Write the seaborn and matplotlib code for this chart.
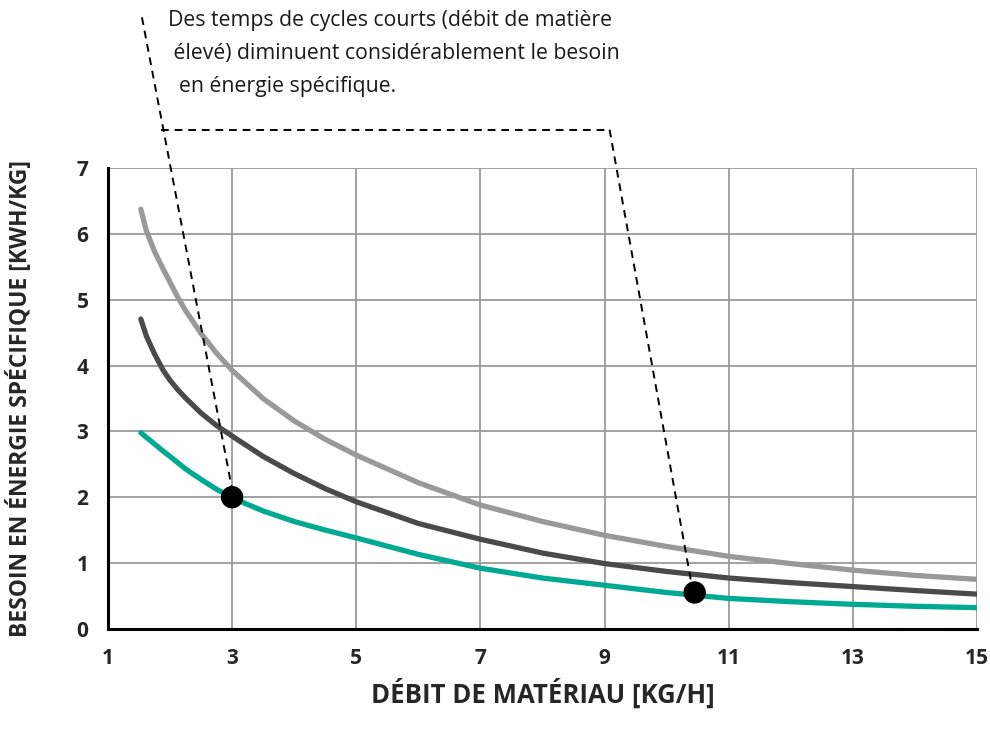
import matplotlib
matplotlib.use("Agg")
import matplotlib.pyplot as plt
import seaborn as sns
import pandas as pd

# ---- data ----
x_vals = [1.53, 1.62, 1.75, 1.89, 2.0, 2.12, 2.25, 2.5, 2.75, 3.0, 3.5, 4.0, 4.5, 5.0,
          6.0, 7.0, 8.0, 9.0, 10.0, 11.0, 12.0, 13.0, 14.0, 15.0]
light_gray = [6.38, 6.05, 5.74, 5.47, 5.27, 5.05, 4.84, 4.49, 4.19, 3.93, 3.50, 3.16,
              2.88, 2.64, 2.22, 1.88, 1.63, 1.42, 1.25, 1.10, 0.99, 0.89, 0.81, 0.75]
dark_gray = [4.71, 4.45, 4.18, 3.93, 3.78, 3.64, 3.51, 3.28, 3.09, 2.93, 2.62, 2.36,
             2.13, 1.93, 1.60, 1.36, 1.15, 0.99, 0.87, 0.77, 0.70, 0.64, 0.58, 0.525]
teal = [2.98, 2.91, 2.81, 2.70, 2.62, 2.53, 2.43, 2.27, 2.12, 1.99, 1.79, 1.63,
        1.50, 1.38, 1.13, 0.92, 0.77, 0.66, 0.55, 0.46, 0.41, 0.37, 0.34, 0.32]

point_x = [3.0, 10.45]
point_y = [2.0, 0.55]

x_ticks = [1, 3, 5, 7, 9, 11, 13, 15]
y_ticks = [0, 1, 2, 3, 4, 5, 6, 7]

x_label = "DÉBIT DE MATÉRIAU [KG/H]"
y_label = "BESOIN EN ÉNERGIE SPÉCIFIQUE [KWH/KG]"
note_text = ("Des temps de cycles courts (débit de matière\n"
             " élevé) diminuent considérablement le besoin\n"
             "  en énergie spécifique.")

# ---- style ----
sns.set_theme(style="white")
plt.rcParams['font.family'] = ['Open Sans', 'DejaVu Sans']

df = pd.DataFrame({
    "x": x_vals * 3,
    "y": light_gray + dark_gray + teal,
    "serie": ["light"] * len(x_vals) + ["dark"] * len(x_vals) + ["teal"] * len(x_vals),
})
palette = {"light": "#999999", "dark": "#4a4a4a", "teal": "#00a992"}

fig = plt.figure(figsize=(9.9, 7.31), dpi=100)
ax = fig.add_axes([0.109, 0.140, 0.878, 0.6295])

sns.lineplot(data=df, x="x", y="y", hue="serie", palette=palette, linewidth=3.8,
             legend=False, ax=ax, zorder=3)

pts = pd.DataFrame({"x": point_x, "y": point_y})
sns.scatterplot(data=pts, x="x", y="y", color="black", s=260, edgecolor="none",
                ax=ax, zorder=5, legend=False)

ax.set_xlim(1, 15)
ax.set_ylim(0, 7)
ax.set_xticks(x_ticks)
ax.set_yticks(y_ticks)
ax.grid(True, color="#9a9a9a", linewidth=1.3)
ax.set_axisbelow(True)
for s in ["top", "right"]:
    ax.spines[s].set_visible(False)
for s in ["left", "bottom"]:
    ax.spines[s].set_color("black")
    ax.spines[s].set_linewidth(2.2)
ax.tick_params(axis="both", direction="out", length=8, width=2, color="black",
               labelsize=15, pad=6)
for lab in ax.get_xticklabels() + ax.get_yticklabels():
    lab.set_fontweight("bold")

ax.set_xlabel(x_label, fontsize=18.5, fontweight="bold")
ax.set_ylabel(y_label, fontsize=16.5, fontweight="bold")
ax.xaxis.set_label_coords(0.5, -0.108)
ax.yaxis.set_label_coords(-0.086, 0.5)

# ---- annotation dashed leaders ----
dash = dict(color="black", linewidth=1.4, linestyle=(0, (4, 3)), clip_on=False, zorder=6)
ax.plot([1.548, point_x[0]], [9.30, point_y[0] + 0.12], **dash)
ax.plot([1.855, 9.08], [7.59, 7.59], **dash)
ax.plot([9.08, point_x[1] - 0.05], [7.59, point_y[1] + 0.13], **dash)

fig.text(168 / 990, 1 - 10 / 731, note_text, fontsize=15.3, ha="left", va="top",
         linespacing=1.75, color="#1a1a1a")
fig.savefig("out.png", dpi=100)
